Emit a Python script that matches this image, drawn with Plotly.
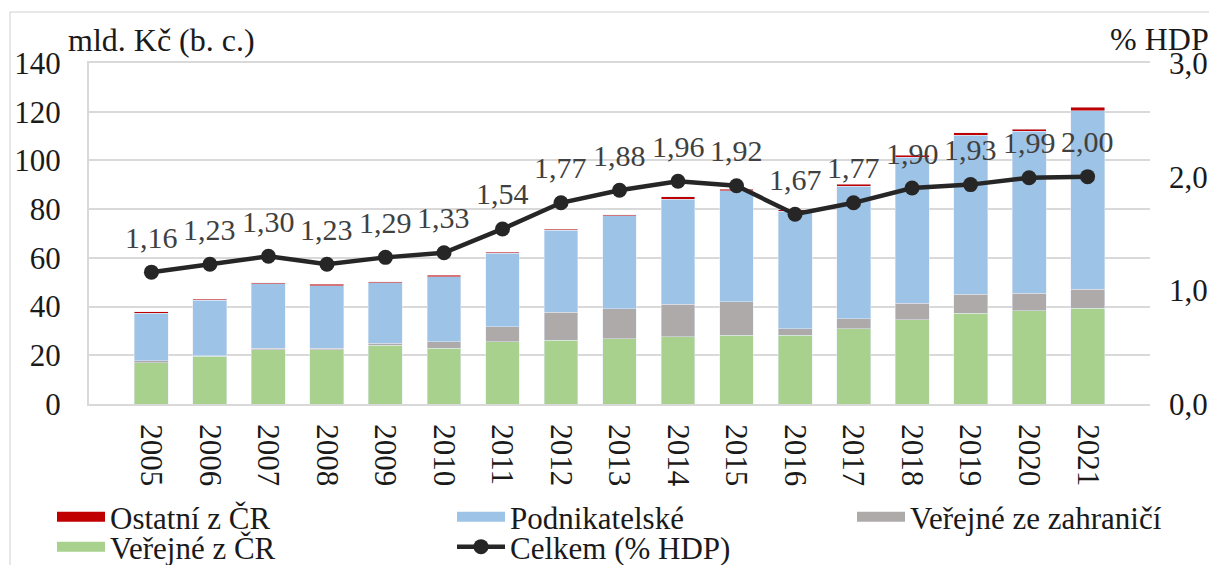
import plotly.graph_objects as go

years = [str(y) for y in range(2005, 2022)]
verejne_cr = [17.0, 19.6, 22.2, 22.2, 24.2, 22.9, 25.6, 26.1, 26.7, 27.6, 28.3, 28.3, 30.8, 34.5, 37.2, 38.2, 39.3]
verejne_zahr = [0.7, 0.2, 0.7, 0.7, 0.7, 2.7, 6.1, 11.5, 12.4, 13.3, 13.6, 2.5, 4.2, 6.8, 7.8, 7.2, 7.8]
podnikatelske = [19.5, 22.8, 26.4, 25.7, 24.8, 26.7, 30.2, 33.7, 38.1, 43.1, 45.7, 48.4, 54.4, 60.0, 65.3, 66.5, 73.2]
ostatni = [0.6, 0.4, 0.5, 0.5, 0.5, 0.5, 0.5, 0.5, 0.5, 1.1, 0.5, 0.6, 0.8, 0.9, 1.1, 1.0, 1.5]
celkem_hdp = [1.16, 1.23, 1.30, 1.23, 1.29, 1.33, 1.54, 1.77, 1.88, 1.96, 1.92, 1.67, 1.77, 1.90, 1.93, 1.99, 2.00]

# page body has an 8px margin; coordinates below are figure pixels
W, H = 1209, 557
L, R, T, B = 81, 1142, 55, 396
pw, ph = R - L, B - T

def px(x):
    return (x - L) / pw

def py(y):
    return (B - y) / ph

FONT = "Liberation Serif"
fs = 31
TXT = "#1a1a1a"

series = [
    ("Veřejné z ČR", verejne_cr, "#a9d18e", "legend4"),
    ("Veřejné ze zahraničí", verejne_zahr, "#aeaaaa", "legend3"),
    ("Podnikatelské", podnikatelske, "#9dc3e6", "legend2"),
    ("Ostatní z ČR", ostatni, "#c00000", "legend"),
]

fig = go.Figure()
for name, vals, col, lg in series:
    fig.add_bar(x=years, y=vals, name=name, marker_color=col, legendgroup=name, showlegend=False)
for name, vals, col, lg in series:
    # legend entry (wide swatch like the original); no visible mark
    fig.add_scatter(x=years[:1], y=[None], mode="lines", name=name, legendgroup=name, legend=lg,
                    line=dict(color=col, width=15), hoverinfo="skip")

fig.add_scatter(x=years, y=celkem_hdp, name="Celkem (% HDP)", yaxis="y2", mode="lines+markers",
                line=dict(color="#262626", width=4.5), marker=dict(color="#262626", size=15),
                legend="legend5", cliponaxis=False)

labels = [dict(x=i, y=v, xref="x", yref="y2", text=f"{v:.2f}".replace(".", ","), showarrow=False,
               yshift=35, xanchor="center", yanchor="middle",
               font=dict(family=FONT, size=30, color="#404040"))
          for i, v in enumerate(celkem_hdp)]

def leg(x, y):
    return dict(orientation="v", x=px(x), y=py(y), xanchor="left", yanchor="middle",
                font=dict(family=FONT, size=fs, color=TXT), itemwidth=48,
                bgcolor="rgba(0,0,0,0)", borderwidth=0)

fig.update_layout(
    width=W, height=H,
    margin=dict(l=L, r=W - R, t=T, b=H - B, autoexpand=False),
    paper_bgcolor="white", plot_bgcolor="white",
    barmode="stack", bargap=0.42,
    separators=", ",
    font=dict(family=FONT, size=fs, color=TXT),
    showlegend=True,
    legend=leg(44, 509), legend2=leg(444, 509), legend3=leg(844, 509),
    legend4=leg(44, 539), legend5=leg(444, 539),
    xaxis=dict(type="category", categoryorder="array", categoryarray=years,
               tickangle=90, showline=True, linecolor="#d9d9d9", linewidth=2, mirror=True,
               ticks="", ticklabelstandoff=12, tickfont=dict(family=FONT, size=fs, color=TXT)),
    yaxis=dict(range=[0, 140], dtick=20, showgrid=True, gridcolor="#d9d9d9", gridwidth=2,
               showline=True, linecolor="#d9d9d9", linewidth=2, zeroline=False,
               ticks="", ticklabelstandoff=20, tickfont=dict(family=FONT, size=fs, color=TXT)),
    yaxis2=dict(range=[0, 3], dtick=1, tickformat=".1f", overlaying="y", side="right",
                showgrid=False, zeroline=False, showline=False, ticks="",
                ticklabelstandoff=18, tickfont=dict(family=FONT, size=fs, color=TXT)),
    annotations=labels + [
        dict(text="mld. Kč (b. c.)", xref="paper", yref="paper", x=px(58), y=py(32),
             xanchor="left", yanchor="middle", showarrow=False, font=dict(family=FONT, size=32, color=TXT)),
        dict(text="% HDP", xref="paper", yref="paper", x=px(1203), y=py(31),
             xanchor="right", yanchor="middle", showarrow=False, font=dict(family=FONT, size=32, color=TXT)),
    ],
    shapes=[
        dict(type="line", xref="paper", yref="paper", x0=px(2), x1=px(2), y0=py(557), y1=py(4),
             line=dict(color="#d0d0d0", width=1)),
        dict(type="line", xref="paper", yref="paper", x0=px(2), x1=px(1209), y0=py(4), y1=py(4),
             line=dict(color="#d0d0d0", width=1)),
    ],
)

fig.write_html("out.html")
